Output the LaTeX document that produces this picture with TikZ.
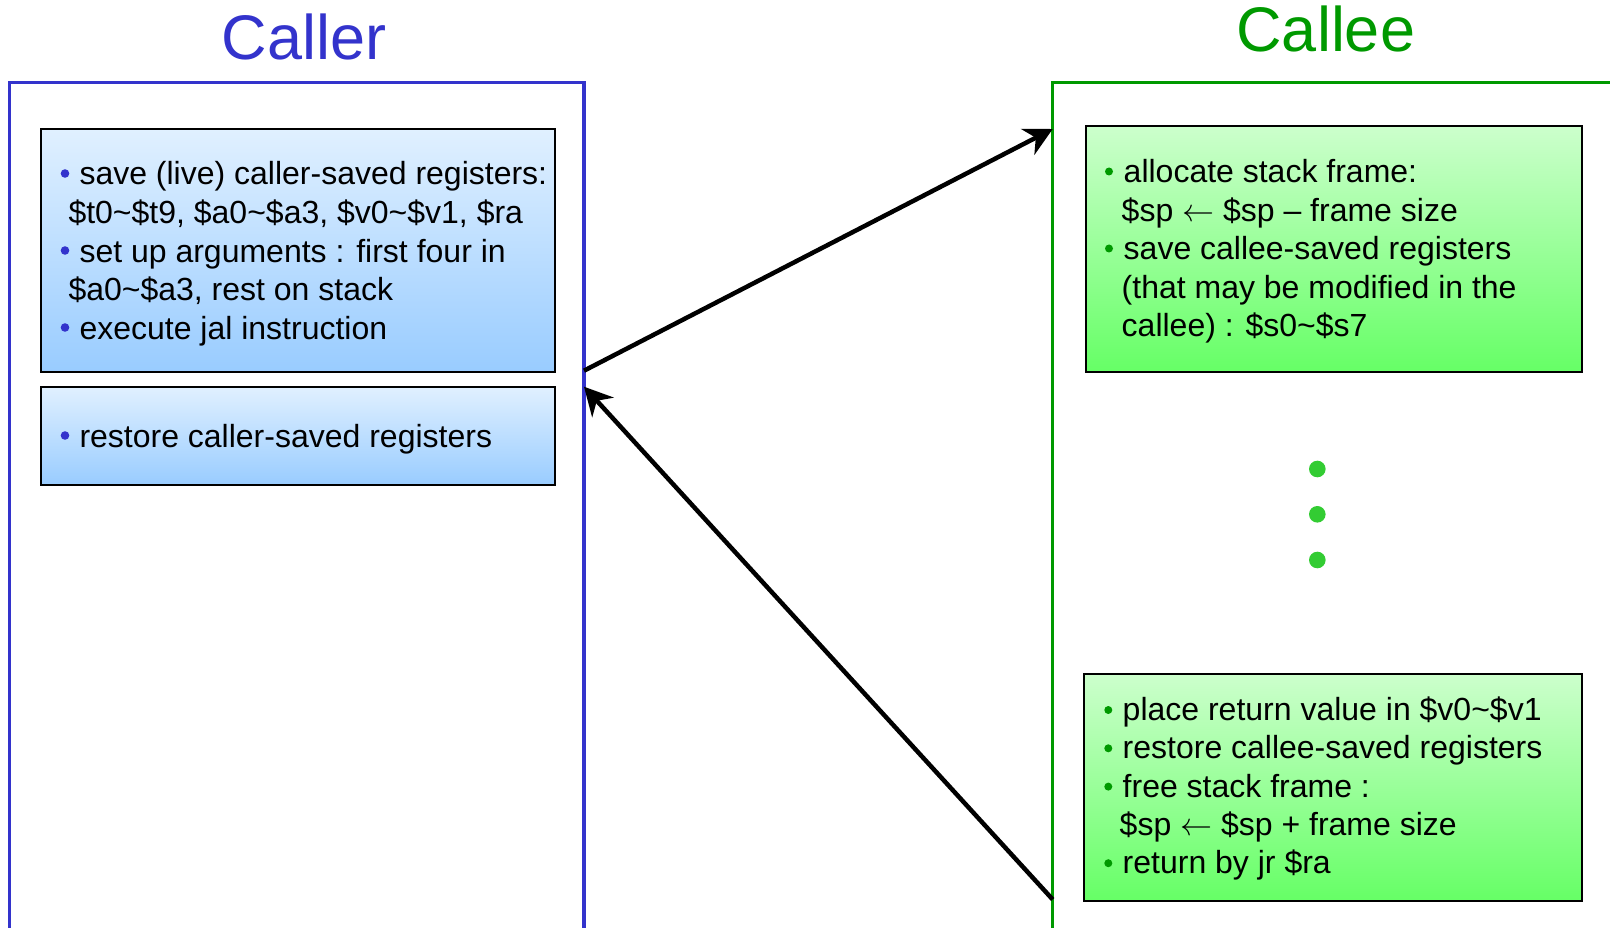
\documentclass[tikz,border=0pt]{standalone}
\usepackage{fix-cm}
\usepackage{fontspec}
\setmainfont{Liberation Sans}
\usetikzlibrary{arrows.meta}
\definecolor{cblue}{RGB}{51,51,204}
\definecolor{cgreen}{RGB}{0,153,0}
\definecolor{dotg}{RGB}{51,204,51}
\definecolor{btop}{RGB}{224,240,255}
\definecolor{bbot}{RGB}{153,204,255}
\definecolor{gtop}{RGB}{204,255,204}
\definecolor{gbot}{RGB}{102,255,102}
\newcommand{\larr}{\ensuremath{\leftarrow}}
\tikzset{
  txt/.style={anchor=base west, inner sep=0pt, font=\fontsize{32}{38.5}\selectfont},
  ttl/.style={anchor=base, inner sep=0pt, font=\fontsize{63}{70}\selectfont},
  bluebox/.style={draw=black, line width=2pt, anchor=north west, inner sep=0pt, top color=btop, bottom color=bbot},
  greenbox/.style={draw=black, line width=2pt, anchor=north west, inner sep=0pt, top color=gtop, bottom color=gbot},
  frameline/.style={line width=3.3pt},
  arr/.style={line width=4.5pt, -{Stealth[length=28pt,width=29pt,inset=9pt]}},
}
\begin{document}
\begin{tikzpicture}[x=1pt,y=-1pt]
\useasboundingbox (0,0) rectangle (1610,928);
% titles
\node[ttl, text=cblue] (tcaller) at (304,59.3) {Caller};
\node[ttl, text=cgreen] (tcallee) at (1325.8,51.7) {Callee};
% frames
\draw[frameline, cblue] (9.5,940) -- (9.5,82.2) -- (584,82.2) -- (584,940);
\draw[frameline, cgreen] (1052.7,940) -- (1052.7,82.7) -- (1620,82.7);
% caller boxes
\node[bluebox, minimum width=513.5pt, minimum height=242.4pt] (b1) at (40,128.3) {};
\node[bluebox, minimum width=513.5pt, minimum height=97.6pt] (b2) at (40,386) {};
% callee boxes
\node[greenbox, minimum width=496pt, minimum height=245.4pt] (g1) at (1085.3,125.3) {};
\node[greenbox, minimum width=498.3pt, minimum height=226.2pt] (g2) at (1082.7,673.3) {};
% caller text
\fill[cblue] (65,173.5) circle (4.3pt) (65,250.5) circle (4.3pt) (65,327.5) circle (4.3pt) (65,435.5) circle (4.3pt);
\node[txt] (c1) at (79.3,185) {save (live) caller-saved registers:};
\node[txt] (c2) at (68.3,223.5) {\$t0\textasciitilde\$t9, \$a0\textasciitilde\$a3, \$v0\textasciitilde\$v1, \$ra};
\node[txt] (c3) at (79.3,262) {set up arguments : first four in};
\node[txt] (c4) at (68.3,300.5) {\$a0\textasciitilde\$a3, rest on stack};
\node[txt] (c5) at (79.3,339) {execute jal instruction};
\node[txt] (c6) at (79.3,447) {restore caller-saved registers};
% callee top text
\fill[cgreen] (1109,171.5) circle (4pt) (1109,248.5) circle (4pt);
\node[txt] (e1) at (1123.5,183) {allocate stack frame:};
\node[txt] (e2) at (1121.5,221.5) {\$sp \larr{} \$sp – frame size};
\node[txt] (e3) at (1123.5,260) {save callee-saved registers};
\node[txt] (e4) at (1121.5,298.5) {(that may be modified in the};
\node[txt] (e5) at (1121.5,337) {callee) : \$s0\textasciitilde\$s7};
% dots
\fill[dotg] (1317.3,469) circle (8.3pt) (1317.3,514.3) circle (8.3pt) (1317.3,560) circle (8.3pt);
% callee bottom text
\fill[cgreen] (1108.3,710) circle (4pt) (1108.3,748.3) circle (4pt) (1108.3,786.6) circle (4pt) (1108.3,863.2) circle (4pt);
\node[txt] (f1) at (1122.5,720.5) {place return value in \$v0\textasciitilde\$v1};
\node[txt] (f2) at (1122.5,758.8) {restore callee-saved registers};
\node[txt] (f3) at (1122.5,797.1) {free stack frame :};
\node[txt] (f4) at (1119.5,835.4) {\$sp \larr{} \$sp + frame size};
\node[txt] (f5) at (1122.5,873.7) {return by jr \$ra};
% arrows
\coordinate (callOut) at (584,370.7);
\coordinate (calleeIn) at (1052.7,129);
\coordinate (calleeOut) at (1052.7,899.5);
\coordinate (callIn) at (584,386.7);
\draw[arr] (callOut) -- (calleeIn);
\draw[arr] (calleeOut) -- (callIn);
\end{tikzpicture}
\end{document}
